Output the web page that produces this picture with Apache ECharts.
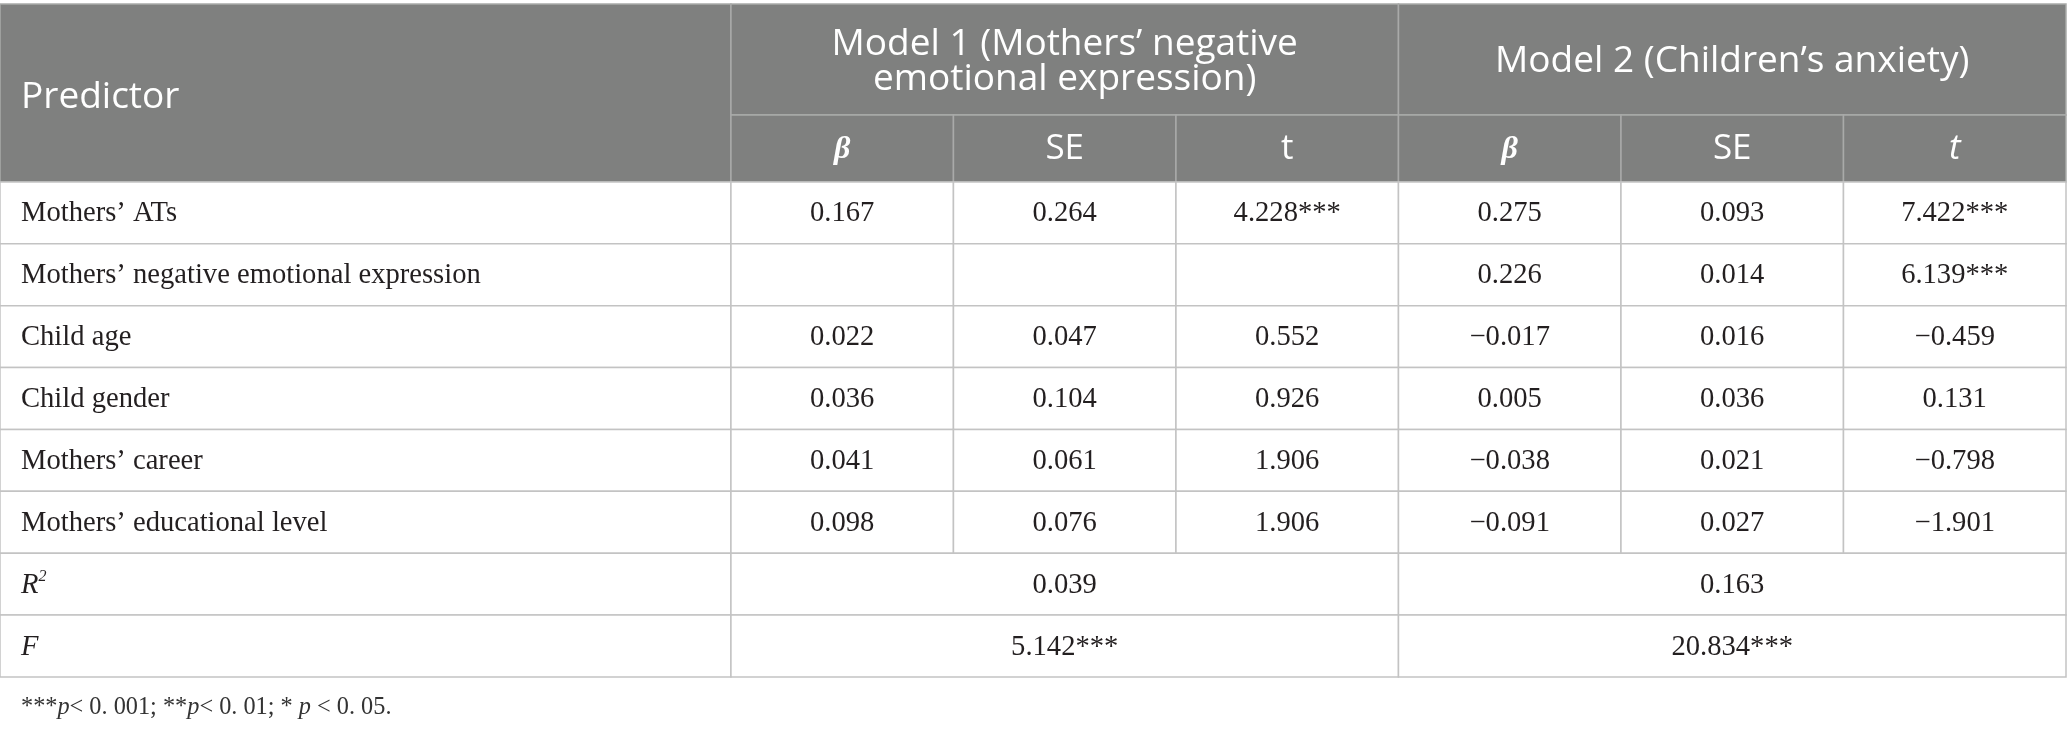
<!DOCTYPE html>
<html><head><meta charset="utf-8">
<script src="https://cdn.jsdelivr.net/npm/echarts@6/dist/echarts.min.js"></script>
<style>html,body{margin:0;padding:0;background:#fff}#c{width:2067px;height:732px}</style>
</head><body><div id="c"></div>
<script>
// ---------- data ----------
const predictors = ['Mothers’ ATs', 'Mothers’ negative emotional expression', 'Child age', 'Child gender', 'Mothers’ career', 'Mothers’ educational level'];
const m1Beta = [0.167, null, 0.022, 0.036, 0.041, 0.098];
const m1SE   = [0.264, null, 0.047, 0.104, 0.061, 0.076];
const m1T    = [4.228, null, 0.552, 0.926, 1.906, 1.906];
const m1TSig = ['***', '', '', '', '', ''];
const m2Beta = [0.275, 0.226, -0.017, 0.005, -0.038, -0.091];
const m2SE   = [0.093, 0.014, 0.016, 0.036, 0.021, 0.027];
const m2T    = [7.422, 6.139, -0.459, 0.131, -0.798, -1.901];
const m2TSig = ['***', '***', '', '', '', ''];
const rSquared = [0.039, 0.163];
const fValues  = [5.142, 20.834];
const fSig     = ['***', '***'];
const cornerLabel = 'Predictor';
const modelTitles = ['Model 1 (Mothers’ negative\nemotional expression)', 'Model 2 (Children’s anxiety)'];
const statHeaders = ['β', 'SE', 't'];

// ---------- layout (relative units) ----------
const colEdges = [0, 3.285, 4.285, 5.285, 6.285, 7.285, 8.285, 9.285];
const rowEdges = [0, 1.793, 2.875];
for (let i = 1; i <= 8; i++) rowEdges.push(2.875 + i);

const HEAD_BG = '#7f807f', HEAD_LINE = '#a9aaa9', BODY_LINE = '#c3c3c3';
const SANS = '"Open Sans", "Noto Sans", sans-serif';
const SERIF = '"Liberation Serif", "DejaVu Serif", serif';
const BODY_COLOR = '#231f20';
const BODY_SIZE = 28.6;

function fmt(v, sig) {
  if (v === null || v === undefined) return '';
  return v.toFixed(3).replace('-', '\u2212') + (sig || '');
}

// ---------- cells ----------
const cells = [];
function add(col, row, span, rspan, text, kind) { cells.push({ col, row, span, rspan, text, kind }); }

add(0, 0, 1, 2, cornerLabel, 'hdrLeft');
add(1, 0, 3, 1, modelTitles[0], 'hdr');
add(4, 0, 3, 1, modelTitles[1], 'hdr');
add(1, 1, 1, 1, statHeaders[0], 'beta');
add(2, 1, 1, 1, statHeaders[1], 'hdr');
add(3, 1, 1, 1, statHeaders[2], 'hdr');
add(4, 1, 1, 1, statHeaders[0], 'beta');
add(5, 1, 1, 1, statHeaders[1], 'hdr');
add(6, 1, 1, 1, statHeaders[2], 'hdrItalic');

predictors.forEach((p, i) => {
  const r = 2 + i;
  add(0, r, 1, 1, p, 'bodyLeft');
  add(1, r, 1, 1, fmt(m1Beta[i]), 'body');
  add(2, r, 1, 1, fmt(m1SE[i]), 'body');
  add(3, r, 1, 1, fmt(m1T[i], m1TSig[i]), 'body');
  add(4, r, 1, 1, fmt(m2Beta[i]), 'body');
  add(5, r, 1, 1, fmt(m2SE[i]), 'body');
  add(6, r, 1, 1, fmt(m2T[i], m2TSig[i]), 'body');
});
add(0, 8, 1, 1, '{i|R}{sup|2}', 'bodyLeftRich');
add(1, 8, 3, 1, fmt(rSquared[0]), 'body');
add(4, 8, 3, 1, fmt(rSquared[1]), 'body');
add(0, 9, 1, 1, '{i|F}', 'bodyLeftRich');
add(1, 9, 3, 1, fmt(fValues[0], fSig[0]), 'body');
add(4, 9, 3, 1, fmt(fValues[1], fSig[1]), 'body');

const richBody = {
  i: { fontFamily: SERIF, fontSize: BODY_SIZE, fontStyle: 'italic', fill: BODY_COLOR, color: BODY_COLOR, lineHeight: 32 },
  sup: { fontFamily: SERIF, fontSize: 16, fontStyle: 'italic', fill: BODY_COLOR, color: BODY_COLOR, verticalAlign: 'top', lineHeight: 32 }
};

function renderItem(params, api) {
  const cell = cells[params.dataIndex];
  const c = api.value(0), r = api.value(1), cs = api.value(2), rs = api.value(3);
  const p0 = api.coord([colEdges[c], rowEdges[r]]);
  const p1 = api.coord([colEdges[c + cs], rowEdges[r + rs]]);
  const x = p0[0], y = p0[1], w = p1[0] - p0[0], h = p1[1] - p0[1];
  const isHead = r < 2;
  const children = [{
    type: 'rect', shape: { x, y, width: w, height: h },
    style: { fill: isHead ? HEAD_BG : '#ffffff', stroke: isHead ? HEAD_LINE : BODY_LINE, lineWidth: 1.5 },
    z2: isHead ? 1 : 2
  }];
  const k = cell.kind;
  const left = k === 'hdrLeft' || k === 'bodyLeft' || k === 'bodyLeftRich';
  let dy = 1;
  if (k === 'hdrLeft') dy = 4;
  else if (k === 'hdr' && r === 0) dy = 2;
  else if (isHead) dy = 1;
  const ts = {
    text: cell.text, x: left ? x + 21 : x + w / 2, y: y + h / 2 + dy,
    align: left ? 'left' : 'center', verticalAlign: 'middle'
  };
  if (k === 'hdr' || k === 'hdrLeft' || k === 'hdrItalic') {
    const fs = r === 0 ? 37 : 35;
    Object.assign(ts, { fontFamily: SANS, fontSize: fs, fill: '#ffffff', lineHeight: 35, fontStyle: k === 'hdrItalic' ? 'italic' : 'normal' });
  } else if (k === 'beta') {
    Object.assign(ts, { fontFamily: SERIF, fontSize: 32, fontStyle: 'italic', fontWeight: 'bold', fill: '#ffffff' });
  } else if (k === 'bodyLeftRich') {
    Object.assign(ts, { fontFamily: SERIF, fontSize: BODY_SIZE, fill: BODY_COLOR, rich: richBody });
  } else {
    Object.assign(ts, { fontFamily: SERIF, fontSize: BODY_SIZE, fill: BODY_COLOR });
  }
  children.push({ type: 'text', style: ts, z2: 10 });
  return { type: 'group', children };
}

const chart = echarts.init(document.getElementById('c'), null, { renderer: 'canvas' });
chart.setOption({
  animation: false,
  backgroundColor: '#ffffff',
  grid: { left: 0, right: 1, top: 4, bottom: 55 },
  xAxis: { type: 'value', min: 0, max: colEdges[colEdges.length - 1], show: false },
  yAxis: { type: 'value', min: 0, max: rowEdges[rowEdges.length - 1], inverse: true, show: false },
  series: [{
    type: 'custom',
    clip: false,
    renderItem,
    data: cells.map(c => ({ value: [c.col, c.row, c.span, c.rspan] }))
  }],
  graphic: [{
    type: 'text', left: 21, top: 696,
    style: {
      text: '{n|***}{i|p}{n|< 0. 001; **}{i|p}{n|< 0. 01; * }{i|p}{n| < 0. 05.}',
      rich: {
        n: { fontFamily: SERIF, fontSize: 24.3, fill: '#333333', color: '#333333' },
        i: { fontFamily: SERIF, fontSize: 24.3, fontStyle: 'italic', fill: '#333333', color: '#333333' }
      }
    }
  }]
});
</script>
</body></html>
